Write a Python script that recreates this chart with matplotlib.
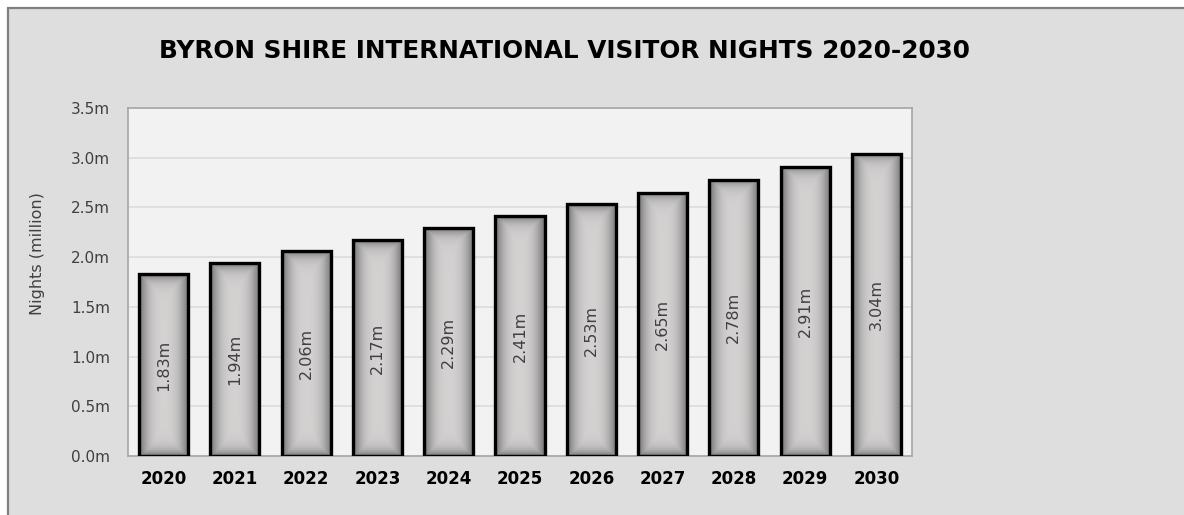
import numpy as np
import matplotlib
matplotlib.use("Agg")
import matplotlib.pyplot as plt
from matplotlib.patches import Rectangle
from matplotlib import font_manager

years = ["2020", "2021", "2022", "2023", "2024", "2025",
         "2026", "2027", "2028", "2029", "2030"]
nights = [1.83, 1.94, 2.06, 2.17, 2.29, 2.41, 2.53, 2.65, 2.78, 2.91, 3.04]
value_labels = ["1.83m", "1.94m", "2.06m", "2.17m", "2.29m", "2.41m",
                "2.53m", "2.65m", "2.78m", "2.91m", "3.04m"]
y_ticks = [0.0, 0.5, 1.0, 1.5, 2.0, 2.5, 3.0, 3.5]
y_tick_labels = ["0.0m", "0.5m", "1.0m", "1.5m", "2.0m", "2.5m", "3.0m", "3.5m"]
title = "BYRON SHIRE INTERNATIONAL VISITOR NIGHTS 2020-2030"
y_label = "Nights (million)"

# narrow bold face for the year labels, if available
names = {f.name for f in font_manager.fontManager.ttflist}
year_family = "Liberation Sans Narrow" if "Liberation Sans Narrow" in names else "DejaVu Sans"
year_size = 14 if year_family == "Liberation Sans Narrow" else 12

W, H, DPI = 1184, 515, 100
fig = plt.figure(figsize=(W / DPI, H / DPI), dpi=DPI)
fig.patch.set_facecolor("white")

# grey chart panel with a darker frame line on its top and left edges
panel = Rectangle((7.5 / W, -0.1), 1.2, (H - 7.5) / H + 0.1,
                  transform=fig.transFigure, facecolor="#dedede",
                  edgecolor="#808080", linewidth=1.6, zorder=-10)
fig.patches.append(panel)

ax = fig.add_axes([128 / W, (H - 456) / H, (912 - 128) / W, (456 - 108) / H])
ax.set_zorder(1)
ax.set_facecolor("#f2f2f2")
for s in ax.spines.values():
    s.set_color("#a6a6a6")
    s.set_linewidth(1.2)

x = np.arange(len(years))
bar_w = 0.69
ax.set_xlim(-0.5, len(years) - 0.5)
ax.set_ylim(0, 3.5)
ax.set_yticks(y_ticks)
ax.set_yticklabels(y_tick_labels, fontsize=11, color="#404040", family="DejaVu Sans")
ax.yaxis.grid(True, color="#dcdcdc", linewidth=1.2)
ax.set_axisbelow(True)
ax.tick_params(axis="y", length=0, pad=13)
ax.tick_params(axis="x", length=0, pad=10)
ax.set_xticks(x)
ax.set_xticklabels(years, fontsize=year_size, fontweight="bold",
                   family=year_family, color="#000000")

ax.set_ylabel(y_label, fontsize=11.5, color="#404040", family="DejaVu Sans")
ax.yaxis.set_label_coords(-0.106, 0.583)

bars = ax.bar(x, nights, width=bar_w, facecolor="none",
              edgecolor="#000000", linewidth=2.4, zorder=3)

# shaded fill for each bar: light centre darkening towards its edges
fig.canvas.draw()
center = np.array([0.83, 0.82, 0.82])
edge = np.array([0.42, 0.42, 0.42])
for rect, v in zip(bars, nights):
    x0, y0 = rect.get_x(), rect.get_y()
    w, h = rect.get_width(), rect.get_height()
    (px0, py0), (px1, py1) = ax.transData.transform([(x0, y0), (x0 + w, y0 + h)])
    wp, hp = int(round(px1 - px0)), int(round(py1 - py0))
    u = (np.arange(wp) + 0.5)
    vv = (np.arange(hp) + 0.5)
    dx = np.minimum(u, wp - u)
    dy = np.minimum(vv, hp - vv)
    tx = np.clip(dx / (wp / 2.0), 0, 1)
    fx = 1 - (1 - tx) ** 2.6
    fy = 1 - np.exp(-dy / 6.0)
    f = np.minimum(fy[:, None], fx[None, :])
    img = edge + (center - edge) * f[..., None]
    im = ax.imshow(img, extent=(x0, x0 + w, y0, y0 + h), origin="lower",
                   aspect="auto", interpolation="bilinear", zorder=2)
    im.set_clip_path(rect)

ax.set_xlim(-0.5, len(years) - 0.5)
ax.set_ylim(0, 3.5)

for xi, v, lab in zip(x, nights, value_labels):
    ax.text(xi, v / 2, lab, rotation=90, ha="center", va="center",
            fontsize=11.5, color="#404040", family="DejaVu Sans", zorder=4)

fig.text(564 / W, (H - 51) / H, title, ha="center", va="center",
         fontsize=17.8, fontweight="bold", family="DejaVu Sans", color="#000000")

fig.savefig("out.png", dpi=DPI)
